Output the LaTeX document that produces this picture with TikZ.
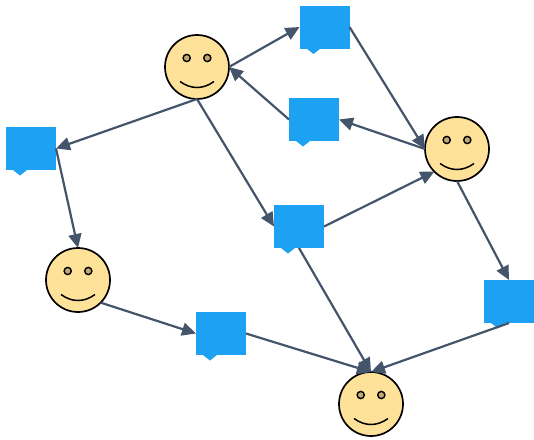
\documentclass[tikz,border=0pt]{standalone}
\usepackage{tikz}
\usetikzlibrary{arrows.meta}
\definecolor{faceyellow}{HTML}{FFE299}
\definecolor{eyetan}{HTML}{BFAA73}
\definecolor{bubbleblue}{HTML}{1DA1F2}
\definecolor{linkgrey}{HTML}{44546A}
\tikzset{
  face/.style={circle,draw=black,fill=faceyellow,line width=1.7pt,minimum size=64pt,inner sep=0pt,outer sep=0pt,
    path picture={
      \begin{scope}[shift={(path picture bounding box.center)}]
        \draw[line width=1.4pt,fill=eyetan] (-10.3,-9) circle (3.6);
        \draw[line width=1.4pt,fill=eyetan] (10.3,-9) circle (3.6);
        \draw[line width=1.5pt] (-17,14.5) .. controls (-6,22.5) and (6,22.5) .. (17,14.5);
      \end{scope}}},
  bubble/.style={rectangle,fill=bubbleblue,minimum width=50pt,minimum height=43pt,inner sep=0pt,outer sep=0pt,
    append after command={\pgfextra{\fill[bubbleblue]
      ([xshift=7pt]\tikzlastnode.south west) -- ++(7,5.5) -- ++(7,-5.5) -- cycle;}}},
  link/.style={draw=linkgrey,line width=2.2pt,-{Triangle[length=14pt,width=13pt]}}
}
\begin{document}
\begin{tikzpicture}[x=1pt,y=-1pt]
  \useasboundingbox (0,0) rectangle (534,439);
  % people
  \node[face] (alice) at (197,67) {};
  \node[face] (bob) at (457,149) {};
  \node[face] (carol) at (78,280) {};
  \node[face] (dave) at (371,404) {};
  % messages
  \node[bubble] (msgA) at (324.5,27) {};
  \node[bubble] (msgB) at (314,119.5) {};
  \node[bubble] (msgC) at (31,148.5) {};
  \node[bubble] (msgD) at (299,226.5) {};
  \node[bubble] (msgE) at (221,333.5) {};
  \node[bubble] (msgF) at (509,301.5) {};
  % links
  \draw[link] (alice.east) -- (msgA.west);
  \draw[link] (msgA.east) -- (bob.west);
  \draw[link] (bob.west) -- (msgB.east);
  \draw[link] (msgB.west) -- (alice.east);
  \draw[link] (alice.south) -- (msgC.east);
  \draw[link] (alice.south) -- (msgD.west);
  \draw[link] (msgC.east) -- (carol.north);
  \draw[link] (carol.south east) -- (msgE.west);
  \draw[link] (msgE.east) -- (dave.north);
  \draw[link] (msgD.east) -- (bob.south west);
  \draw[link] (msgD.south) -- (dave.north);
  \draw[link] (bob.south) -- (msgF.north);
  \draw[link] (msgF.south) -- (dave.north);
\end{tikzpicture}
\end{document}
